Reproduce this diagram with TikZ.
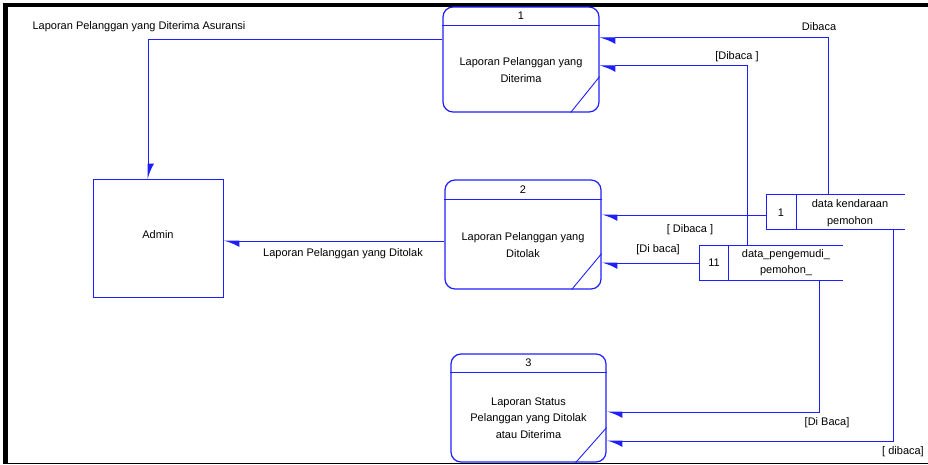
\documentclass[tikz,border=0pt]{standalone}
\usepackage{fontspec}
\setmainfont{Liberation Sans}
\usetikzlibrary{arrows.meta}
\definecolor{dfdblue}{RGB}{30,30,255}
\begin{document}
\begin{tikzpicture}[x=1pt,y=-1pt,
  every node/.style={font=\fontsize{11}{16.5}\selectfont, inner sep=0pt},
  proc/.style={draw=dfdblue, line width=1.2pt, rounded corners=10pt},
  ent/.style={draw=dfdblue, line width=1pt},
  flow/.style={draw=dfdblue, line width=1pt, -{Latex[harpoon,length=14pt,width=12pt]}},
  storeln/.style={draw=dfdblue, line width=1.1pt},
  lbl/.style={text=black}]
\useasboundingbox (0,0) rectangle (928,465);
% frame
\fill[black] (3,3) rectangle (928,7);
\fill[black] (3,3) rectangle (8,464);
\fill[black] (3,462.5) rectangle (928,464);

% processes
\node[proc, minimum width=156pt, minimum height=105pt] (p1) at (521,59.5) {};
\node[proc, minimum width=156pt, minimum height=109pt] (p2) at (523,234.5) {};
\node[proc, minimum width=155pt, minimum height=108pt] (p3) at (528.5,408) {};
\foreach \p/\h/\d/\e in {p1/19/36/29, p2/20/36/30, p3/19/35/31}{
  \draw[dfdblue, line width=1.2pt] ([yshift=-\h pt]\p.north west) -- ([yshift=-\h pt]\p.north east);
  \draw[dfdblue, line width=0.9pt] ([yshift=\d pt]\p.south east) -- ([xshift=-\e pt]\p.south east);
}
\node (n1) at ([yshift=-9.5pt]p1.north) {1};
\node (n2) at ([yshift=-10pt]p2.north) {2};
\node (n3) at ([yshift=-9.5pt]p3.north) {3};
\node[align=center] (t1) at (521,70) {Laporan Pelanggan yang\\Diterima};
\node[align=center] (t2) at (523,245) {Laporan Pelanggan yang\\Ditolak};
\node[align=center] (t3) at (528.5,418) {Laporan Status\\Pelanggan yang Ditolak\\atau Diterima};

% entity
\node[ent, minimum width=130pt, minimum height=117pt] (a) at (158,238.5) {};
\node (at) at (158,235) {Admin};

% stores
\node[minimum width=138pt, minimum height=34pt] (s1) at (836,212) {};
\node[minimum width=143pt, minimum height=34pt] (s2) at (771.5,263) {};
\foreach \s/\dv in {s1/30, s2/29}{
  \draw[storeln] (\s.north east) -- (\s.north west) -- (\s.south west) -- (\s.south east);
  \draw[storeln] ([xshift=\dv pt]\s.north west) -- ([xshift=\dv pt]\s.south west);
}
\node (s1n) at (781,213) {1};
\node[align=center] (s1t) at (850,213) {data kendaraan\\pemohon};
\node (s2n) at (714,263) {11};
\node[align=center] (s2t) at (786,262.5) {data\_pengemudi\_\\pemohon\_};

% flows
\coordinate (k6) at ([yshift=19.5pt]p1.west);
\draw[flow] (k6) -| ([xshift=-10pt]a.north);
\coordinate (k7) at ([yshift=-6.5pt]p2.west);
\draw[flow] (k7) -- (a.east |- k7);
\coordinate (k1) at ([yshift=21.5pt]p1.east);
\draw[flow] ([xshift=-8pt]s1.north) |- (k1);
\coordinate (k2) at ([yshift=-6.5pt]p1.east);
\draw[flow] ([xshift=-24.5pt]s2.north) |- (k2);
\coordinate (k3) at ([yshift=-3pt]s1.west);
\draw[flow] (k3) -- (p2.east |- k3);
\draw[flow] (s2.west) -- (p2.east |- s2.west);
\coordinate (k4) at ([yshift=-4pt]p3.east);
\draw[flow] ([xshift=47.5pt]s2.south) |- (k4);
\coordinate (k5) at ([yshift=-33pt]p3.east);
\draw[flow] ([xshift=57pt]s1.south) |- (k5);

% labels
\node[lbl] (l1) at (139,27) {Laporan Pelanggan yang Diterima Asuransi};
\node[lbl] (l2) at (343,254) {Laporan Pelanggan yang Ditolak};
\node[lbl] (l3) at (819,27) {Dibaca};
\node[lbl] (l4) at (737,57) {[Dibaca ]};
\node[lbl] (l5) at (690,230) {[ Dibaca ]};
\node[lbl] (l6) at (658,250) {[Di baca]};
\node[lbl] (l7) at (827,423) {[Di Baca]};
\node[lbl] (l8) at (903,452) {[ dibaca]};
\end{tikzpicture}
\end{document}
